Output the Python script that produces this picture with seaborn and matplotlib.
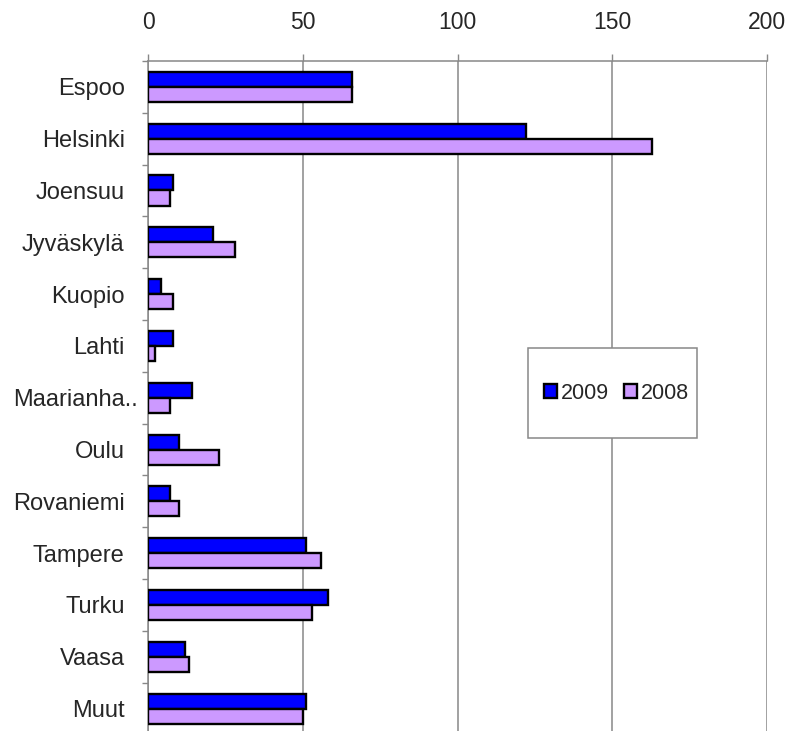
import matplotlib
matplotlib.use("Agg")
import matplotlib.pyplot as plt
from matplotlib.patches import Rectangle
from matplotlib.ticker import FixedLocator
from matplotlib.transforms import ScaledTranslation
import seaborn as sns
import pandas as pd

cities = ["Espoo", "Helsinki", "Joensuu", "Jyväskylä", "Kuopio", "Lahti",
          "Maarianha..", "Oulu", "Rovaniemi", "Tampere", "Turku", "Vaasa", "Muut"]
values_2009 = [66, 122, 8, 21, 4, 8, 14, 10, 7, 51, 58, 12, 51]
values_2008 = [66, 163, 7, 28, 8, 2, 7, 23, 10, 56, 53, 13, 50]
years = ["2009", "2008"]
year_colors = {"2009": "#0000FF", "2008": "#CC99FF"}
x_ticks = [0, 50, 100, 150, 200]

df = pd.DataFrame({
    "city": cities * 2,
    "year": ["2009"] * len(cities) + ["2008"] * len(cities),
    "value": values_2009 + values_2008,
})

sns.set_style("white")
plt.rcParams["font.family"] = ["Liberation Sans", "DejaVu Sans"]

fig = plt.figure(figsize=(7.89, 7.31), dpi=100)
ax = fig.add_axes([0.188, -0.0048, 0.7838, 0.9214])

sns.barplot(data=df, y="city", x="value", hue="year", hue_order=years,
            order=cities, palette=year_colors, orient="h", width=0.58,
            edgecolor="black", linewidth=1.7, saturation=1, ax=ax, zorder=3)

grid_color = "#888888"
ax.set_xlim(0, 200)
ax.set_ylim(len(cities) - 0.5, -0.5)
ax.xaxis.tick_top()
ax.set_xticks(x_ticks)
ax.set_xticklabels([str(t) for t in x_ticks])
ax.xaxis.grid(True, color=grid_color, linewidth=1.1, zorder=0)
ax.yaxis.grid(False)
ax.set_axisbelow(True)
ax.tick_params(axis="x", which="major", top=True, bottom=False, direction="out",
               length=5, width=1, color=grid_color, pad=14.5, labelsize=16.5)

ax.set_yticks(range(len(cities)))
ax.set_yticklabels(cities)
ax.yaxis.set_minor_locator(FixedLocator([i - 0.5 for i in range(len(cities) + 1)]))
ax.tick_params(axis="y", which="major", left=False, length=0, pad=17, labelsize=17)
ax.tick_params(axis="y", which="minor", left=True, direction="out",
               length=4.5, width=1, color=grid_color)

# the truncated label runs closer to the axis than the others
for lbl in ax.get_yticklabels():
    if lbl.get_text().endswith(".."):
        lbl.set_transform(lbl.get_transform()
                          + ScaledTranslation(0.13, 0, fig.dpi_scale_trans))

for side in ["right", "bottom"]:
    ax.spines[side].set_visible(False)
for side in ["top", "left"]:
    ax.spines[side].set_visible(True)
    ax.spines[side].set_color(grid_color)
    ax.spines[side].set_linewidth(1.1)

ax.set_xlabel("")
ax.set_ylabel("")

# legend box with a white fill over the gridlines
ax.add_patch(Rectangle((0.6135, 0.4407), 0.2743, 0.1327, transform=ax.transAxes,
                       facecolor="white", edgecolor=grid_color, linewidth=1.1,
                       zorder=4))
handles, labels = ax.get_legend_handles_labels()
leg = ax.legend(handles, labels, loc="center", bbox_to_anchor=(0.757, 0.5065),
                ncol=2, frameon=False, fontsize=15.5, handlelength=0.6,
                handleheight=0.6, handletextpad=0.2, columnspacing=0.7)
leg.set_zorder(5)

fig.savefig("out.png", dpi=100)
